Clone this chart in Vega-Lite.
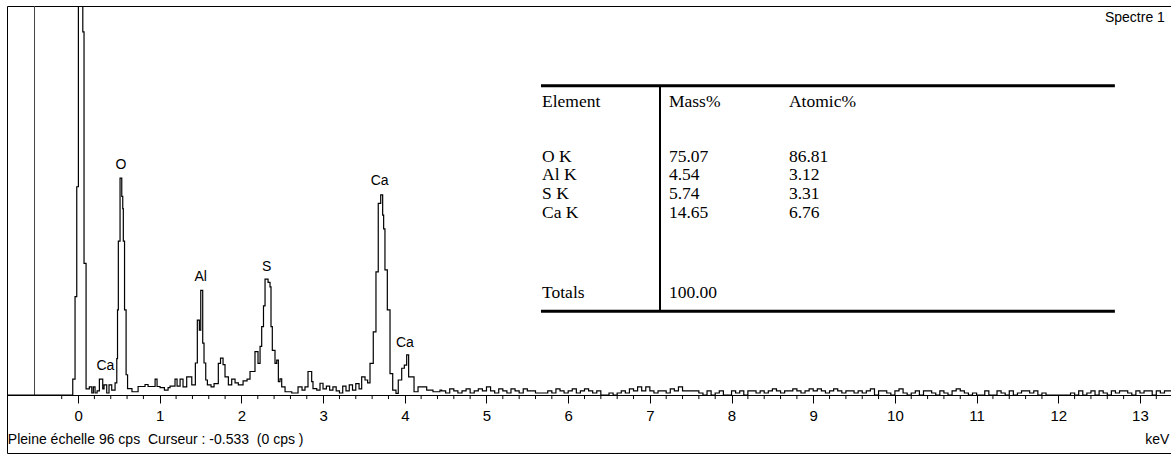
{
  "$schema": "https://vega.github.io/schema/vega-lite/v6.json",
  "width": 1164,
  "height": 447,
  "autosize": {"type": "none"},
  "padding": {"left": 7, "top": 6, "right": 0, "bottom": 1},
  "background": "white",
  "config": {
    "view": {"stroke": "black", "strokeWidth": 1},
    "font": "Liberation Sans Narrow, Liberation Sans, sans-serif"
  },
  "datasets": {
    "one": [{}],
    "minorTicks": [
      {"keV": -0.2}, {"keV": 0.2}, {"keV": 0.4}, {"keV": 0.6}, {"keV": 0.8}, {"keV": 1.2}, {"keV": 1.4}, {"keV": 1.6}, {"keV": 1.8},
      {"keV": 2.2}, {"keV": 2.4}, {"keV": 2.6}, {"keV": 2.8}, {"keV": 3.2}, {"keV": 3.4}, {"keV": 3.6}, {"keV": 3.8},
      {"keV": 4.2}, {"keV": 4.4}, {"keV": 4.6}, {"keV": 4.8}, {"keV": 5.2}, {"keV": 5.4}, {"keV": 5.6}, {"keV": 5.8},
      {"keV": 6.2}, {"keV": 6.4}, {"keV": 6.6}, {"keV": 6.8}, {"keV": 7.2}, {"keV": 7.4}, {"keV": 7.6}, {"keV": 7.8},
      {"keV": 8.2}, {"keV": 8.4}, {"keV": 8.6}, {"keV": 8.8}, {"keV": 9.2}, {"keV": 9.4}, {"keV": 9.6}, {"keV": 9.8},
      {"keV": 10.2}, {"keV": 10.4}, {"keV": 10.6}, {"keV": 10.8}, {"keV": 11.2}, {"keV": 11.4}, {"keV": 11.6}, {"keV": 11.8},
      {"keV": 12.2}, {"keV": 12.4}, {"keV": 12.6}, {"keV": 12.8}, {"keV": 13.2}
    ],
    "spectrum": [
      {"keV": -0.87, "cps": 0}, {"keV": -0.065, "cps": 3.9}, {"keV": -0.037, "cps": 24.3}, {"keV": -0.016, "cps": 51.4},
      {"keV": 0.004, "cps": 150}, {"keV": 0.058, "cps": 89.6}, {"keV": 0.073, "cps": 32.5}, {"keV": 0.098, "cps": 1.5},
      {"keV": 0.138, "cps": 2.0}, {"keV": 0.168, "cps": 0.5}, {"keV": 0.187, "cps": 2.0}, {"keV": 0.208, "cps": 0.5},
      {"keV": 0.233, "cps": 1.0}, {"keV": 0.261, "cps": 3.9}, {"keV": 0.302, "cps": 1.5}, {"keV": 0.318, "cps": 2.5},
      {"keV": 0.351, "cps": 0.5}, {"keV": 0.379, "cps": 2.5}, {"keV": 0.412, "cps": 1.2}, {"keV": 0.453, "cps": 3.0},
      {"keV": 0.474, "cps": 9.0}, {"keV": 0.483, "cps": 21}, {"keV": 0.493, "cps": 38}, {"keV": 0.514, "cps": 53.5},
      {"keV": 0.535, "cps": 49}, {"keV": 0.547, "cps": 46}, {"keV": 0.554, "cps": 38}, {"keV": 0.569, "cps": 21},
      {"keV": 0.588, "cps": 5}, {"keV": 0.606, "cps": 1.6}, {"keV": 0.66, "cps": 0.8}, {"keV": 0.735, "cps": 2.1},
      {"keV": 0.82, "cps": 2.6}, {"keV": 0.857, "cps": 2.1}, {"keV": 0.943, "cps": 3.9}, {"keV": 0.967, "cps": 2.1},
      {"keV": 1.004, "cps": 1.8}, {"keV": 1.057, "cps": 1.2}, {"keV": 1.102, "cps": 1.8}, {"keV": 1.126, "cps": 2.2},
      {"keV": 1.187, "cps": 3.9}, {"keV": 1.212, "cps": 2.2}, {"keV": 1.249, "cps": 3.9}, {"keV": 1.285, "cps": 2.0},
      {"keV": 1.33, "cps": 4.5}, {"keV": 1.392, "cps": 2.5}, {"keV": 1.436, "cps": 7.9}, {"keV": 1.46, "cps": 18.5},
      {"keV": 1.485, "cps": 16}, {"keV": 1.502, "cps": 25.8}, {"keV": 1.526, "cps": 12.8}, {"keV": 1.542, "cps": 7.9},
      {"keV": 1.563, "cps": 3.7}, {"keV": 1.583, "cps": 2.5}, {"keV": 1.628, "cps": 2.0}, {"keV": 1.665, "cps": 2.8},
      {"keV": 1.717, "cps": 7.8}, {"keV": 1.744, "cps": 9.1}, {"keV": 1.775, "cps": 7.5}, {"keV": 1.799, "cps": 4.5},
      {"keV": 1.84, "cps": 2.5}, {"keV": 1.881, "cps": 3.9}, {"keV": 1.922, "cps": 3.0}, {"keV": 1.962, "cps": 2.5},
      {"keV": 2.02, "cps": 3.5}, {"keV": 2.069, "cps": 3.9}, {"keV": 2.105, "cps": 5.8}, {"keV": 2.166, "cps": 10.7},
      {"keV": 2.203, "cps": 7.8}, {"keV": 2.228, "cps": 12}, {"keV": 2.248, "cps": 16.9}, {"keV": 2.27, "cps": 22},
      {"keV": 2.289, "cps": 28.6}, {"keV": 2.326, "cps": 27.8}, {"keV": 2.35, "cps": 26.7}, {"keV": 2.362, "cps": 16.9},
      {"keV": 2.378, "cps": 11}, {"keV": 2.411, "cps": 7.8}, {"keV": 2.432, "cps": 8.6}, {"keV": 2.452, "cps": 3.3},
      {"keV": 2.472, "cps": 4.0}, {"keV": 2.493, "cps": 2.0}, {"keV": 2.534, "cps": 0.8}, {"keV": 2.616, "cps": 0.5},
      {"keV": 2.693, "cps": 2.0}, {"keV": 2.742, "cps": 1.2}, {"keV": 2.778, "cps": 2.0}, {"keV": 2.815, "cps": 5.8},
      {"keV": 2.86, "cps": 3.3}, {"keV": 2.876, "cps": 1.6}, {"keV": 2.922, "cps": 1.2}, {"keV": 2.962, "cps": 2.9},
      {"keV": 2.999, "cps": 1.5}, {"keV": 3.04, "cps": 2.2}, {"keV": 3.08, "cps": 1.2}, {"keV": 3.12, "cps": 2.0},
      {"keV": 3.16, "cps": 1.0}, {"keV": 3.2, "cps": 0.5}, {"keV": 3.24, "cps": 2.2}, {"keV": 3.28, "cps": 1.0},
      {"keV": 3.32, "cps": 2.5}, {"keV": 3.36, "cps": 1.2}, {"keV": 3.4, "cps": 2.8}, {"keV": 3.44, "cps": 1.5},
      {"keV": 3.472, "cps": 4.5}, {"keV": 3.513, "cps": 3.7}, {"keV": 3.545, "cps": 3.0}, {"keV": 3.574, "cps": 7.8},
      {"keV": 3.614, "cps": 15.6}, {"keV": 3.647, "cps": 30.4}, {"keV": 3.675, "cps": 47.3}, {"keV": 3.705, "cps": 49.4},
      {"keV": 3.729, "cps": 44.4}, {"keV": 3.741, "cps": 41}, {"keV": 3.757, "cps": 30.9}, {"keV": 3.786, "cps": 21},
      {"keV": 3.819, "cps": 5.3}, {"keV": 3.852, "cps": 1.2}, {"keV": 3.892, "cps": 0.4}, {"keV": 3.92, "cps": 3.7},
      {"keV": 3.962, "cps": 6.6}, {"keV": 3.994, "cps": 7.4}, {"keV": 4.023, "cps": 9.9}, {"keV": 4.047, "cps": 4.5},
      {"keV": 4.113, "cps": 0.8}, {"keV": 4.162, "cps": 2.0}, {"keV": 4.268, "cps": 1.2}, {"keV": 4.345, "cps": 0.8},
      {"keV": 4.431, "cps": 1.2},
      {"keV": 4.45, "cps": 1}, {"keV": 4.5, "cps": 0.5}, {"keV": 4.55, "cps": 1.5}, {"keV": 4.6, "cps": 1}, {"keV": 4.65, "cps": 0.5},
      {"keV": 4.7, "cps": 1}, {"keV": 4.75, "cps": 1.5}, {"keV": 4.8, "cps": 0.5}, {"keV": 4.85, "cps": 1}, {"keV": 4.9, "cps": 1.5},
      {"keV": 4.95, "cps": 1}, {"keV": 5.0, "cps": 2}, {"keV": 5.05, "cps": 1}, {"keV": 5.1, "cps": 0.5}, {"keV": 5.15, "cps": 1.5},
      {"keV": 5.2, "cps": 1}, {"keV": 5.25, "cps": 0.5}, {"keV": 5.3, "cps": 1.5}, {"keV": 5.35, "cps": 1}, {"keV": 5.4, "cps": 0.5},
      {"keV": 5.45, "cps": 1.5}, {"keV": 5.5, "cps": 1}, {"keV": 5.55, "cps": 1}, {"keV": 5.6, "cps": 0.5}, {"keV": 5.65, "cps": 0.5},
      {"keV": 5.7, "cps": 0.5}, {"keV": 5.75, "cps": 1}, {"keV": 5.8, "cps": 0.5}, {"keV": 5.85, "cps": 1.5}, {"keV": 5.9, "cps": 1},
      {"keV": 5.95, "cps": 0.5}, {"keV": 6.0, "cps": 1}, {"keV": 6.05, "cps": 1.5}, {"keV": 6.1, "cps": 0.5}, {"keV": 6.15, "cps": 1},
      {"keV": 6.2, "cps": 1.5}, {"keV": 6.25, "cps": 1}, {"keV": 6.3, "cps": 0.5}, {"keV": 6.35, "cps": 1}, {"keV": 6.4, "cps": 0},
      {"keV": 6.45, "cps": 0}, {"keV": 6.5, "cps": 0.5}, {"keV": 6.55, "cps": 0}, {"keV": 6.6, "cps": 0.5}, {"keV": 6.65, "cps": 1},
      {"keV": 6.7, "cps": 0.5}, {"keV": 6.75, "cps": 1.5}, {"keV": 6.8, "cps": 1}, {"keV": 6.85, "cps": 2}, {"keV": 6.9, "cps": 1},
      {"keV": 6.95, "cps": 2}, {"keV": 7.0, "cps": 1}, {"keV": 7.05, "cps": 0.5}, {"keV": 7.1, "cps": 1}, {"keV": 7.15, "cps": 1},
      {"keV": 7.2, "cps": 0.5}, {"keV": 7.25, "cps": 1.5}, {"keV": 7.3, "cps": 1}, {"keV": 7.35, "cps": 2}, {"keV": 7.4, "cps": 1},
      {"keV": 7.45, "cps": 1}, {"keV": 7.5, "cps": 1}, {"keV": 7.55, "cps": 1}, {"keV": 7.6, "cps": 0.5}, {"keV": 7.65, "cps": 0},
      {"keV": 7.7, "cps": 1}, {"keV": 7.75, "cps": 0}, {"keV": 7.8, "cps": 0.5}, {"keV": 7.85, "cps": 1}, {"keV": 7.9, "cps": 0},
      {"keV": 7.95, "cps": 0}, {"keV": 8.0, "cps": 1}, {"keV": 8.05, "cps": 0.5}, {"keV": 8.1, "cps": 1}, {"keV": 8.15, "cps": 0},
      {"keV": 8.2, "cps": 1}, {"keV": 8.25, "cps": 1}, {"keV": 8.3, "cps": 0.5}, {"keV": 8.35, "cps": 1}, {"keV": 8.4, "cps": 0.5},
      {"keV": 8.45, "cps": 1}, {"keV": 8.5, "cps": 1.5}, {"keV": 8.55, "cps": 1}, {"keV": 8.6, "cps": 0.5}, {"keV": 8.65, "cps": 1},
      {"keV": 8.7, "cps": 1}, {"keV": 8.75, "cps": 1.5}, {"keV": 8.8, "cps": 1}, {"keV": 8.85, "cps": 0.5}, {"keV": 8.9, "cps": 1},
      {"keV": 8.95, "cps": 1.5}, {"keV": 9.0, "cps": 1}, {"keV": 9.05, "cps": 1.5}, {"keV": 9.1, "cps": 1}, {"keV": 9.15, "cps": 0.5},
      {"keV": 9.2, "cps": 1}, {"keV": 9.25, "cps": 1.5}, {"keV": 9.3, "cps": 1}, {"keV": 9.35, "cps": 0.5}, {"keV": 9.4, "cps": 1},
      {"keV": 9.45, "cps": 1}, {"keV": 9.5, "cps": 0.5}, {"keV": 9.55, "cps": 1}, {"keV": 9.6, "cps": 0.5}, {"keV": 9.65, "cps": 1},
      {"keV": 9.7, "cps": 1.5}, {"keV": 9.75, "cps": 0}, {"keV": 9.8, "cps": 1}, {"keV": 9.85, "cps": 1}, {"keV": 9.9, "cps": 0.5},
      {"keV": 9.95, "cps": 0}, {"keV": 10.0, "cps": 1}, {"keV": 10.05, "cps": 1.5}, {"keV": 10.1, "cps": 0.5}, {"keV": 10.15, "cps": 0},
      {"keV": 10.2, "cps": 0.5}, {"keV": 10.25, "cps": 1}, {"keV": 10.3, "cps": 0}, {"keV": 10.35, "cps": 1}, {"keV": 10.4, "cps": 1},
      {"keV": 10.45, "cps": 0.5}, {"keV": 10.5, "cps": 0}, {"keV": 10.55, "cps": 1}, {"keV": 10.6, "cps": 0.5}, {"keV": 10.65, "cps": 0},
      {"keV": 10.7, "cps": 1}, {"keV": 10.75, "cps": 1.5}, {"keV": 10.8, "cps": 1}, {"keV": 10.85, "cps": 0.5}, {"keV": 10.9, "cps": 0},
      {"keV": 10.95, "cps": 0.5}, {"keV": 11.0, "cps": 0}, {"keV": 11.05, "cps": 0}, {"keV": 11.1, "cps": 1}, {"keV": 11.15, "cps": 0},
      {"keV": 11.2, "cps": 0}, {"keV": 11.25, "cps": 1}, {"keV": 11.3, "cps": 0.5}, {"keV": 11.35, "cps": 0}, {"keV": 11.4, "cps": 1},
      {"keV": 11.45, "cps": 0}, {"keV": 11.5, "cps": 0.5}, {"keV": 11.55, "cps": 1}, {"keV": 11.6, "cps": 1}, {"keV": 11.65, "cps": 0.5},
      {"keV": 11.7, "cps": 1}, {"keV": 11.75, "cps": 0}, {"keV": 11.8, "cps": 0.5}, {"keV": 11.85, "cps": 0}, {"keV": 11.9, "cps": 0},
      {"keV": 11.95, "cps": 0}, {"keV": 12.0, "cps": 0}, {"keV": 12.05, "cps": 0}, {"keV": 12.1, "cps": 0}, {"keV": 12.15, "cps": 0.5},
      {"keV": 12.2, "cps": 0}, {"keV": 12.25, "cps": 1}, {"keV": 12.3, "cps": 0}, {"keV": 12.35, "cps": 0.5}, {"keV": 12.4, "cps": 1},
      {"keV": 12.45, "cps": 0}, {"keV": 12.5, "cps": 1}, {"keV": 12.55, "cps": 0.5}, {"keV": 12.6, "cps": 0}, {"keV": 12.65, "cps": 1},
      {"keV": 12.7, "cps": 0.5}, {"keV": 12.75, "cps": 1}, {"keV": 12.8, "cps": 1}, {"keV": 12.85, "cps": 0.5}, {"keV": 12.9, "cps": 0},
      {"keV": 12.95, "cps": 1}, {"keV": 13.0, "cps": 0.5}, {"keV": 13.05, "cps": 1}, {"keV": 13.1, "cps": 1}, {"keV": 13.15, "cps": 0},
      {"keV": 13.2, "cps": 1}, {"keV": 13.25, "cps": 0.5}, {"keV": 13.3, "cps": 1}, {"keV": 13.35, "cps": 1}, {"keV": 13.4, "cps": 0.5}
    ],
    "peaks": [
      {"label": "Ca", "keV": 0.334, "cps": 7.1},
      {"label": "O", "keV": 0.525, "cps": 56.8},
      {"label": "Al", "keV": 1.502, "cps": 29.0},
      {"label": "S", "keV": 2.309, "cps": 31.7},
      {"label": "Ca", "keV": 3.692, "cps": 52.8},
      {"label": "Ca", "keV": 4.002, "cps": 12.9}
    ],
    "table": [
      {"element": "Element", "mass": "Mass%", "atomic": "Atomic%", "cps": 72.3},
      {"element": "O K", "mass": "75.07", "atomic": "86.81", "cps": 58.7},
      {"element": "Al K", "mass": "4.54", "atomic": "3.12", "cps": 54.2},
      {"element": "S K", "mass": "5.74", "atomic": "3.31", "cps": 49.6},
      {"element": "Ca K", "mass": "14.65", "atomic": "6.76", "cps": 45.0},
      {"element": "Totals", "mass": "100.00", "atomic": "", "cps": 25.2}
    ]
  },
  "layer": [
    {
      "data": {"name": "one"},
      "mark": {"type": "rule", "color": "#444444", "strokeWidth": 1},
      "encoding": {
        "x": {"datum": -0.533, "type": "quantitative",
          "scale": {"domain": [-0.87, 13.38], "nice": false, "zero": false}},
        "y": {"datum": 0, "type": "quantitative", "scale": {"domain": [-14.31, 96], "nice": false, "zero": false}, "axis": null},
        "y2": {"datum": 96}
      }
    },
    {
      "data": {"name": "spectrum"},
      "mark": {"type": "line", "interpolate": "step-after", "color": "black", "strokeWidth": 1.2, "clip": true},
      "encoding": {
        "x": {"field": "keV", "type": "quantitative",
          "axis": {"orient": "bottom", "offset": -58, "values": [0, 1, 2, 3, 4, 5, 6, 7, 8, 9, 10, 11, 12, 13], "format": "d",
            "tickSize": 8, "tickColor": "black", "tickWidth": 1, "domain": true, "domainColor": "black", "domainWidth": 1,
            "labelColor": "black", "labelFontSize": 15, "labelPadding": 5, "labelFlush": false, "labelOverlap": false,
            "grid": false, "title": null}},
        "y": {"field": "cps", "type": "quantitative", "axis": null}
      }
    },
    {
      "data": {"name": "minorTicks"},
      "mark": {"type": "rule", "color": "black", "strokeWidth": 1},
      "encoding": {
        "x": {"field": "keV", "type": "quantitative"},
        "y": {"datum": 0, "type": "quantitative", "axis": null},
        "y2": {"datum": -1.0}
      }
    },
    {
      "data": {"name": "peaks"},
      "mark": {"type": "text", "fontSize": 14, "align": "center", "baseline": "middle", "color": "black"},
      "encoding": {
        "x": {"field": "keV", "type": "quantitative"},
        "y": {"field": "cps", "type": "quantitative", "axis": null},
        "text": {"field": "label"}
      }
    },
    {
      "data": {"name": "one"},
      "mark": {"type": "rule", "color": "black", "strokeWidth": 3},
      "encoding": {
        "x": {"datum": 5.667, "type": "quantitative"},
        "x2": {"datum": 12.693},
        "y": {"datum": 76.3, "type": "quantitative", "axis": null}
      }
    },
    {
      "data": {"name": "one"},
      "mark": {"type": "rule", "color": "black", "strokeWidth": 3},
      "encoding": {
        "x": {"datum": 5.667, "type": "quantitative"},
        "x2": {"datum": 12.693},
        "y": {"datum": 20.7, "type": "quantitative", "axis": null}
      }
    },
    {
      "data": {"name": "one"},
      "mark": {"type": "rule", "color": "black", "strokeWidth": 2},
      "encoding": {
        "x": {"datum": 7.124, "type": "quantitative"},
        "y": {"datum": 76.3, "type": "quantitative", "axis": null},
        "y2": {"datum": 20.7}
      }
    },
    {
      "data": {"name": "table"},
      "mark": {"type": "text", "font": "Liberation Serif", "fontSize": 17.5, "align": "left", "baseline": "middle", "color": "black"},
      "encoding": {
        "x": {"datum": 5.68, "type": "quantitative"},
        "y": {"field": "cps", "type": "quantitative", "axis": null},
        "text": {"field": "element"}
      }
    },
    {
      "data": {"name": "table"},
      "mark": {"type": "text", "font": "Liberation Serif", "fontSize": 17.5, "align": "left", "baseline": "middle", "color": "black"},
      "encoding": {
        "x": {"datum": 7.234, "type": "quantitative"},
        "y": {"field": "cps", "type": "quantitative", "axis": null},
        "text": {"field": "mass"}
      }
    },
    {
      "data": {"name": "table"},
      "mark": {"type": "text", "font": "Liberation Serif", "fontSize": 17.5, "align": "left", "baseline": "middle", "color": "black"},
      "encoding": {
        "x": {"datum": 8.703, "type": "quantitative"},
        "y": {"field": "cps", "type": "quantitative", "axis": null},
        "text": {"field": "atomic"}
      }
    },
    {
      "data": {"name": "one"},
      "mark": {"type": "text", "text": "Pleine échelle 96 cps \u00a0Curseur : -0.533 \u00a0(0 cps )", "fontSize": 14, "align": "left", "baseline": "middle", "color": "black"},
      "encoding": {
        "x": {"datum": -0.86, "type": "quantitative"},
        "y": {"datum": -11.1, "type": "quantitative", "axis": null}
      }
    },
    {
      "data": {"name": "one"},
      "mark": {"type": "text", "text": "keV", "fontSize": 14, "align": "right", "baseline": "middle", "color": "black"},
      "encoding": {
        "x": {"datum": 13.36, "type": "quantitative"},
        "y": {"datum": -11.1, "type": "quantitative", "axis": null}
      }
    },
    {
      "data": {"name": "one"},
      "mark": {"type": "text", "text": "Spectre 1", "fontSize": 14, "align": "right", "baseline": "middle", "color": "black"},
      "encoding": {
        "x": {"datum": 13.305, "type": "quantitative"},
        "y": {"datum": 93.0, "type": "quantitative", "axis": null}
      }
    }
  ]
}
